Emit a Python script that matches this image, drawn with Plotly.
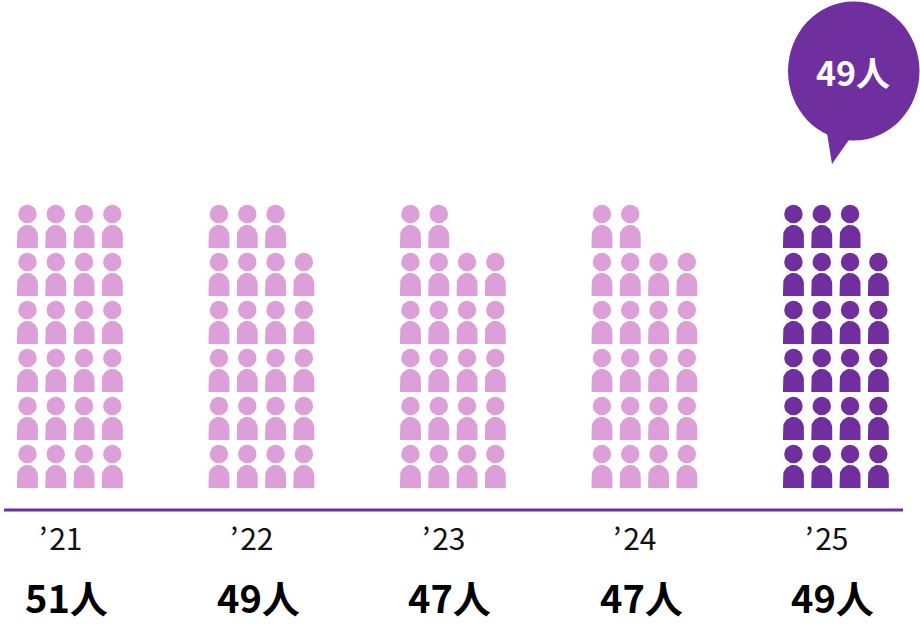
import math
import plotly.graph_objects as go

years = ["’\u200a21", "’\u200a22", "’\u200a23", "’\u200a24", "’\u200a25"]
people = [51, 49, 47, 47, 49]
icons = [24, 23, 22, 22, 23]
highlight = 4
callout = "49人"

LIGHT = "#DC9FD8"
DARK = "#6F2F9F"
W, H = 920, 624
COLS = 4
GROUP_PX = 191.5
ROW_PX = 48.0
COL_STEP = 28.3 / GROUP_PX
ORIGIN_X = 69.9
ORIGIN_Y = 488.0
BODY_H = 23.0 / ROW_PX
HALF_W = 10.5 / GROUP_PX
DOME_H = 11.0 / ROW_PX
HEAD_OFF = 34.0 / ROW_PX
FONT = "'Noto Sans CJK JP', sans-serif"


def slots(group, n):
    xs, ys = [], []
    for i in range(n):
        xs.append(group + (i % COLS - 1.5) * COL_STEP)
        ys.append(i // COLS)
    return xs, ys


def body_outline(xs, ys):
    ox, oy = [], []
    for x, y in zip(xs, ys):
        ox += [x - HALF_W]
        oy += [y]
        for k in range(0, 25):
            a = math.pi - math.pi * k / 24
            ox.append(x + HALF_W * math.cos(a))
            oy.append(y + BODY_H - DOME_H + DOME_H * math.sin(a))
        ox += [x + HALF_W, None]
        oy += [y, None]
    return ox, oy


fig = go.Figure()
for g, n in enumerate(icons):
    xs, ys = slots(g, n)
    color = DARK if g == highlight else LIGHT
    ox, oy = body_outline(xs, ys)
    fig.add_trace(go.Scatter(
        x=ox, y=oy, mode="lines", fill="toself", fillcolor=color,
        line=dict(width=0, color=color), showlegend=False, hoverinfo="skip", name=years[g],
    ))
    fig.add_trace(go.Scatter(
        x=xs, y=[r + HEAD_OFF for r in ys], mode="markers",
        marker=dict(symbol="circle", size=18.5, color=color, line=dict(width=0)),
        name=years[g], showlegend=False, hoverinfo="skip",
    ))

annotations = []
for g, (yr, p) in enumerate(zip(years, people)):
    annotations.append(dict(
        x=g, y=(ORIGIN_Y - 537) / ROW_PX, text=yr, showarrow=False,
        xanchor="center", yanchor="middle", xshift=-9,
        font=dict(family=FONT, size=30, color="#111111"),
    ))
    annotations.append(dict(
        x=g, y=(ORIGIN_Y - 596) / ROW_PX, text=f"<b>{p}人</b>", showarrow=False,
        xanchor="center", yanchor="middle", xshift=-3,
        font=dict(family=FONT, size=38, color="#000000"),
    ))
annotations.append(dict(
    xref="paper", yref="paper", x=853 / W, y=1 - 71 / H, text=f"<b>{callout}</b>",
    xanchor="center", yanchor="middle",
    showarrow=False, font=dict(family=FONT, size=34, color="#FFFFFF"),
))


def px(x):
    return x / W


def py(y):
    return 1 - y / H


shapes = [
    dict(type="line", xref="paper", yref="paper", x0=px(4), x1=px(903), y0=py(510), y1=py(510),
         line=dict(color=DARK, width=3)),
    dict(type="circle", xref="paper", yref="paper", x0=px(788), x1=px(919.5), y0=py(140.5), y1=py(1.5),
         fillcolor=DARK, line=dict(width=0), layer="below"),
    dict(type="path", xref="paper", yref="paper",
         path=f"M {px(826.5)} {py(130)} L {px(832)} {py(164)} L {px(851)} {py(137)} Z",
         fillcolor=DARK, line=dict(width=0), layer="below"),
]

fig.update_layout(
    width=W, height=H, margin=dict(l=0, r=0, t=0, b=0),
    paper_bgcolor="white", plot_bgcolor="white", showlegend=False,
    xaxis=dict(range=[-ORIGIN_X / GROUP_PX, (W - ORIGIN_X) / GROUP_PX], visible=False, fixedrange=True),
    yaxis=dict(range=[-(H - ORIGIN_Y) / ROW_PX, ORIGIN_Y / ROW_PX], visible=False, fixedrange=True),
    shapes=shapes, annotations=annotations,
)
fig.write_html("out.html", config={"displayModeBar": False},
               post_script="document.body.style.margin='0';document.documentElement.style.overflow='hidden';")
